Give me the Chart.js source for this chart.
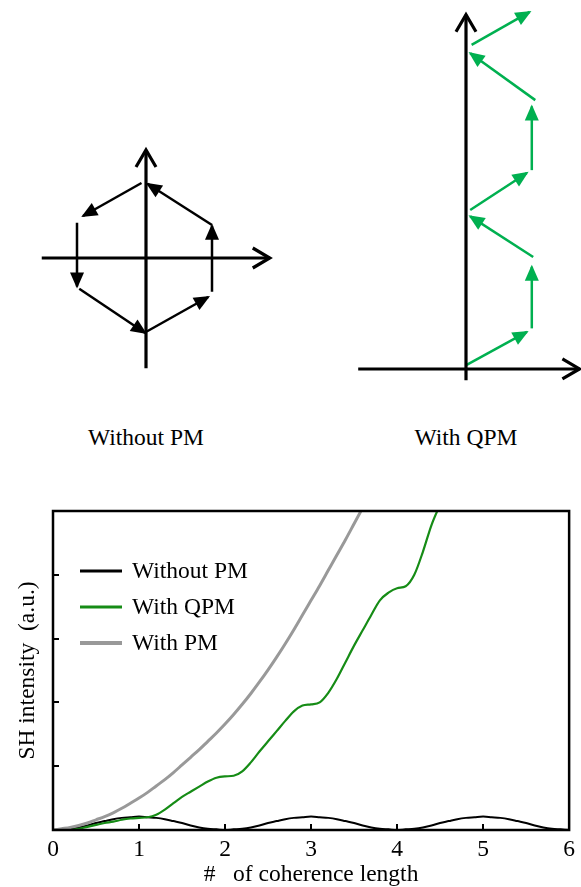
<!DOCTYPE html>
<html>
<head>
<meta charset="utf-8">
<script src="https://cdn.jsdelivr.net/npm/chart.js@4.4.0/dist/chart.umd.min.js"></script>
<style>
  html, body { margin: 0; padding: 0; background: #fff; width: 581px; height: 887px; overflow: hidden; position: relative; }
  canvas { position: absolute; }
  .cap { position: absolute; font: 23.5px 'Liberation Serif', 'Times New Roman', serif; color: #000;
         white-space: nowrap; transform: translate(-50%, -50%); }
</style>
</head>
<body>
<canvas id="phasorA" width="264" height="240" style="left:26px;top:138px;width:264px;height:240px"></canvas>
<canvas id="phasorB" width="227" height="390" style="left:354px;top:0px;width:227px;height:390px"></canvas>
<div class="cap" style="left:146px;top:437px">Without PM</div>
<div class="cap" style="left:466px;top:437px">With QPM</div>
<canvas id="growth" width="581" height="407" style="left:0;top:480px;width:581px;height:407px"></canvas>

<script>
// ---- Phasor diagrams: field contributions added head to tail ----
// Axes of each diagram, [tail, tip]
const noPmAxisH = [[-1.39, 0], [1.65, 0]];
const noPmAxisV = [[0, -1.47], [0, 1.44]];
// Without phase matching the SH phasor keeps rotating and closes on itself
const noPmStart = [[0.01, -0.98], [0.88, -0.45], [0.88, 0.44], [-0.06, 1.0], [-0.92, 0.47], [-0.89, -0.41]];
const noPmEnd   = [[0.83, -0.52], [0.88, 0.43], [0.02, 0.99], [-0.84, 0.56], [-0.92, -0.38], [-0.01, -1.0]];

const qpmAxisH = [[-1.54, 0], [1.62, 0]];
const qpmAxisV = [[0, -0.16], [0, 5.06]];
// With quasi phase matching the sign flip keeps the sum growing
const qpmStart = [[0.01, 0.06], [0.94, 0.58], [0.96, 1.60], [0.06, 2.27], [0.94, 2.84], [0.99, 3.84], [0.08, 4.63]];
const qpmEnd   = [[0.87, 0.53], [0.94, 1.46], [0.06, 2.18], [0.87, 2.80], [0.94, 3.75], [0.06, 4.51], [0.91, 5.10]];

// ---- SH intensity versus propagation length ----
const coherenceLength = [
  0, 0.1, 0.2, 0.3, 0.4, 0.5, 0.6, 0.7, 0.8, 0.9, 1.0,
  1.1, 1.2, 1.3, 1.4, 1.5, 1.6, 1.7, 1.8, 1.9, 2.0,
  2.1, 2.2, 2.3, 2.4, 2.5, 2.6, 2.7, 2.8, 2.9, 3.0,
  3.1, 3.2, 3.3, 3.4, 3.5, 3.6, 3.7, 3.8, 3.9, 4.0,
  4.1, 4.2, 4.3, 4.4, 4.5, 4.6, 4.7, 4.8, 4.9, 5.0,
  5.1, 5.2, 5.3, 5.4, 5.5, 5.6, 5.7, 5.8, 5.9, 6.0
];
const withoutPM = [
  0, 0.01, 0.02, 0.04, 0.07, 0.11, 0.14, 0.17, 0.19, 0.2, 0.21,
  0.2, 0.19, 0.17, 0.14, 0.11, 0.07, 0.04, 0.02, 0.01, 0,
  0.01, 0.02, 0.04, 0.07, 0.11, 0.14, 0.17, 0.19, 0.2, 0.21,
  0.2, 0.19, 0.17, 0.14, 0.11, 0.07, 0.04, 0.02, 0.01, 0,
  0.01, 0.02, 0.04, 0.07, 0.11, 0.14, 0.17, 0.19, 0.2, 0.21,
  0.2, 0.19, 0.17, 0.14, 0.11, 0.07, 0.04, 0.02, 0.01, 0
];
const withQPM = [
  0, 0, 0, 0.02, 0.05, 0.08, 0.11, 0.13, 0.16, 0.18, 0.19,
  0.2, 0.24, 0.32, 0.42, 0.52, 0.6, 0.68, 0.76, 0.82, 0.84,
  0.85, 0.92, 1.06, 1.23, 1.39, 1.55, 1.71, 1.86, 1.95, 1.97,
  2.0, 2.15, 2.37, 2.63, 2.89, 3.13, 3.37, 3.6, 3.72, 3.79,
  3.82, 4.0, 4.36, 4.78, 5.1, 5.4, null, null, null, null,
  null, null, null, null, null, null, null, null, null, null
];
const withPM = [
  0, 0.02, 0.04, 0.07, 0.11, 0.16, 0.21, 0.27, 0.34, 0.42, 0.5,
  0.59, 0.69, 0.79, 0.9, 1.02, 1.14, 1.26, 1.39, 1.52, 1.66,
  1.81, 1.97, 2.14, 2.32, 2.51, 2.71, 2.92, 3.14, 3.37, 3.6,
  3.83, 4.07, 4.31, 4.55, 4.8, 5.05, 5.3, null, null, null,
  null, null, null, null, null, null, null, null, null, null,
  null, null, null, null, null, null, null, null, null, null
];
const xTickStep = 1;
const yTickStep = 1;

const SERIF = "'Liberation Serif', 'Times New Roman', serif";
const TEXT_SIZE = 23.5;
const INK = '#000000';
const PHASOR_GREEN = '#00b050';

// Arrow heads at the last point of each flagged dataset
const arrowHeads = {
  id: 'arrowHeads',
  afterDatasetsDraw(chart) {
    const ctx = chart.ctx;
    chart.data.datasets.forEach((ds, i) => {
      const pts = chart.getDatasetMeta(i).data;
      if (!ds.head || pts.length < 2) return;
      const a = pts[pts.length - 2], b = pts[pts.length - 1];
      const ang = Math.atan2(b.y - a.y, b.x - a.x);
      ctx.save();
      ctx.translate(b.x, b.y);
      ctx.rotate(ang);
      if (ds.head === 'solid') {
        ctx.fillStyle = ds.borderColor;
        ctx.beginPath();
        ctx.moveTo(2, 0);
        ctx.lineTo(-14, -7);
        ctx.lineTo(-14, 7);
        ctx.closePath();
        ctx.fill();
      } else {
        ctx.strokeStyle = ds.borderColor;
        ctx.lineWidth = ds.borderWidth;
        ctx.lineCap = 'butt';
        ctx.lineJoin = 'miter';
        ctx.beginPath();
        ctx.moveTo(-17, -10);
        ctx.lineTo(0, 0);
        ctx.lineTo(-17, 10);
        ctx.stroke();
      }
      ctx.restore();
    });
  }
};

function segment(pair, color, width, head) {
  return {
    data: pair.map(p => ({ x: p[0], y: p[1] })),
    borderColor: color, borderWidth: width, showLine: true,
    pointRadius: 0, head: head, clip: false, borderCapStyle: 'butt'
  };
}

function vectors(starts, ends, color) {
  return starts.map((s, i) => segment([s, ends[i]], color, 2.5, 'solid'));
}

function phasorChart(id, axes, starts, ends, color, xr, yr) {
  return new Chart(document.getElementById(id), {
    type: 'scatter',
    data: { datasets: axes.map(a => segment(a, INK, 3.2, 'open')).concat(vectors(starts, ends, color)) },
    options: {
      responsive: false, animation: false, events: [],
      layout: { padding: 0 },
      plugins: { legend: { display: false }, tooltip: { enabled: false } },
      scales: {
        x: { type: 'linear', display: false, min: xr[0], max: xr[1] },
        y: { type: 'linear', display: false, min: yr[0], max: yr[1] }
      }
    },
    plugins: [arrowHeads]
  });
}

phasorChart('phasorA', [noPmAxisH, noPmAxisV], noPmStart, noPmEnd, INK, [-1.6, 1.92], [-1.6, 1.6]);
phasorChart('phasorB', [qpmAxisH, qpmAxisV], qpmStart, qpmEnd, PHASOR_GREEN, [-1.6, 1.6429], [-0.3, 5.27]);

// Frame, inward ticks and the in-plot key
const frameAndKey = {
  id: 'frameAndKey',
  afterDatasetsDraw(chart) {
    const { ctx, chartArea: a, scales: { x, y } } = chart;
    ctx.save();
    ctx.strokeStyle = INK;
    ctx.lineWidth = 2;
    ctx.beginPath();
    x.ticks.forEach(t => {
      if (t.value <= x.min || t.value >= x.max) return;
      const px = Math.round(x.getPixelForValue(t.value));
      ctx.moveTo(px, a.bottom);
      ctx.lineTo(px, a.bottom - 6);
    });
    y.ticks.forEach(t => {
      if (t.value <= y.min || t.value >= y.max) return;
      const py = Math.round(y.getPixelForValue(t.value));
      ctx.moveTo(a.left, py);
      ctx.lineTo(a.left + 6, py);
    });
    ctx.stroke();
    ctx.lineWidth = 2.5;
    ctx.strokeRect(a.left, a.top, a.right - a.left, a.bottom - a.top);

    ctx.font = TEXT_SIZE + 'px ' + SERIF;
    ctx.fillStyle = INK;
    ctx.textBaseline = 'middle';
    ctx.textAlign = 'left';
    const keyOrder = [0, 1, 2];
    keyOrder.forEach((di, row) => {
      const ds = chart.data.datasets[di];
      const yy = a.top + 60 + row * 36;
      ctx.strokeStyle = ds.borderColor;
      ctx.lineWidth = ds.keyWidth;
      ctx.beginPath();
      ctx.moveTo(a.left + 27, yy);
      ctx.lineTo(a.left + 69, yy);
      ctx.stroke();
      ctx.fillText(ds.label, a.left + 79, yy + 1);
    });
    ctx.restore();
  }
};

const toPoints = ys => coherenceLength.map((x, i) => ({ x: x, y: ys[i] }));

new Chart(document.getElementById('growth'), {
  type: 'line',
  data: {
    datasets: [
      { label: 'Without PM', data: toPoints(withoutPM), borderColor: '#000000', borderWidth: 2, keyWidth: 3, order: 2 },
      { label: 'With QPM', data: toPoints(withQPM), borderColor: '#168c16', borderWidth: 2.2, keyWidth: 3, order: 0 },
      { label: 'With PM', data: toPoints(withPM), borderColor: '#999999', borderWidth: 3, keyWidth: 4, order: 1 }
    ]
  },
  options: {
    responsive: false, animation: false, events: [],
    layout: { padding: { top: 31, right: 11, left: 0, bottom: 0 } },
    elements: { point: { radius: 0 }, line: { cubicInterpolationMode: 'monotone', fill: false } },
    plugins: { legend: { display: false }, tooltip: { enabled: false } },
    scales: {
      x: {
        type: 'linear', min: 0, max: 6,
        ticks: { stepSize: xTickStep, color: INK, font: { family: SERIF, size: TEXT_SIZE }, padding: 6, maxRotation: 0 },
        grid: { display: false, drawTicks: false }, border: { display: false },
        title: { display: true, text: '#   of coherence length', color: INK,
                 font: { family: SERIF, size: TEXT_SIZE, lineHeight: 1 }, padding: 0 },
        afterFit: s => { s.height = 57; }
      },
      y: {
        type: 'linear', min: 0, max: 5,
        ticks: { stepSize: yTickStep, display: false },
        grid: { display: false, drawTicks: false }, border: { display: false },
        title: { display: true, text: 'SH intensity  (a.u.)', color: INK,
                 font: { family: SERIF, size: TEXT_SIZE }, padding: { top: 14, bottom: 0 } },
        afterFit: s => { s.width = 53; }
      }
    }
  },
  plugins: [frameAndKey]
});
</script>
</body>
</html>
